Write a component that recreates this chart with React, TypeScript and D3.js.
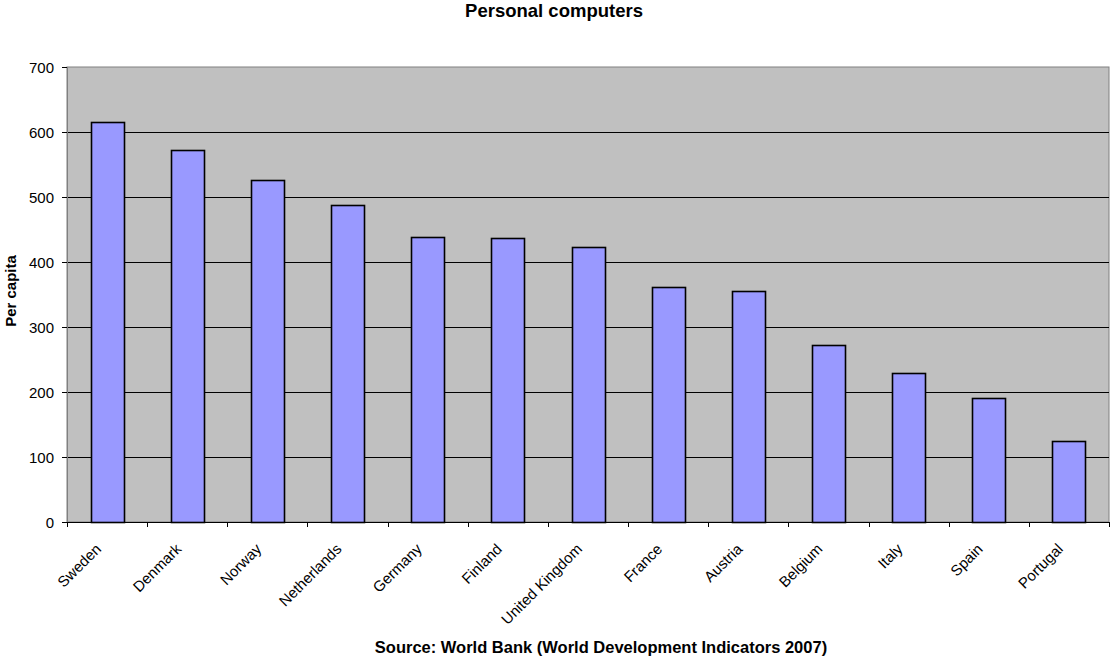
import React from "react";
import * as d3 from "d3";

const countries = ["Sweden", "Denmark", "Norway", "Netherlands", "Germany", "Finland", "United Kingdom", "France", "Austria", "Belgium", "Italy", "Spain", "Portugal"];
const values = [615, 572, 526, 488, 439, 437, 423, 362, 355, 273, 229, 191, 125];
const yTicks = [0, 100, 200, 300, 400, 500, 600, 700];

const W = 1110, H = 657;
const M = { left: 67, right: 1109, top: 67, bottom: 522 };
const FONT = "Arial, 'Liberation Sans', sans-serif";

export default function App() {
  const x = d3.scaleBand<string>().domain(countries).range([M.left, M.right]).paddingInner(0).paddingOuter(0);
  const y = d3.scaleLinear().domain([0, 700]).range([M.bottom, M.top]);
  const bw = x.bandwidth() * 0.41;
  const edges = countries.map((c) => x(c)!).concat([M.right]);
  return (
    <svg width={W} height={H} style={{ position: "absolute", left: 0, top: 0 }} fontFamily={FONT}>
      <rect x={0} y={0} width={W} height={H} fill="#fff" />
      <text x={554} y={17} textAnchor="middle" fontSize={18.5} fontWeight="bold">Personal computers</text>
      <rect x={M.left} y={M.top} width={M.right - M.left} height={M.bottom - M.top} fill="#c0c0c0" stroke="#808080" strokeWidth={1} />
      {yTicks.filter((t) => t > 0 && t < 700).map((t) => (
        <line key={t} x1={M.left} x2={M.right} y1={Math.round(y(t)) + 0.5} y2={Math.round(y(t)) + 0.5} stroke="#000" strokeWidth={1} />
      ))}
      {countries.map((c, i) => {
        const cx = x(c)! + x.bandwidth() / 2;
        const top = y(values[i]);
        return (
          <rect key={c} x={Math.round(cx - bw / 2) + 0.5} y={Math.round(top) + 0.5} width={Math.round(bw)} height={Math.round(M.bottom - top)} fill="#9999ff" stroke="#000" strokeWidth={1.6} />
        );
      })}
      <line x1={M.left + 0.5} x2={M.left + 0.5} y1={M.top} y2={M.bottom} stroke="#808080" strokeWidth={1} />
      <line x1={M.left} x2={M.right} y1={M.bottom + 0.5} y2={M.bottom + 0.5} stroke="#000" strokeWidth={1} />
      {yTicks.map((t) => (
        <g key={t}>
          <line x1={M.left - 5} x2={M.left} y1={Math.round(y(t)) + 0.5} y2={Math.round(y(t)) + 0.5} stroke="#000" />
          <text x={M.left - 13} y={y(t) + 5.5} textAnchor="end" fontSize={15}>{t}</text>
        </g>
      ))}
      {edges.map((e, i) => (
        <line key={i} x1={Math.round(e) + 0.5} x2={Math.round(e) + 0.5} y1={M.bottom} y2={M.bottom + 5} stroke="#000" />
      ))}
      {countries.map((c) => {
        const cx = x(c)! + x.bandwidth() / 2;
        return (
          <text key={c} transform={`translate(${cx - 5},${M.bottom + 28}) rotate(-45)`} textAnchor="end" fontSize={15}>{c}</text>
        );
      })}
      <text transform={`translate(16,291) rotate(-90)`} textAnchor="middle" fontSize={15} fontWeight="bold">Per capita</text>
      <text x={601} y={653} textAnchor="middle" fontSize={16.5} fontWeight="bold">Source: World Bank (World Development Indicators 2007)</text>
    </svg>
  );
}
